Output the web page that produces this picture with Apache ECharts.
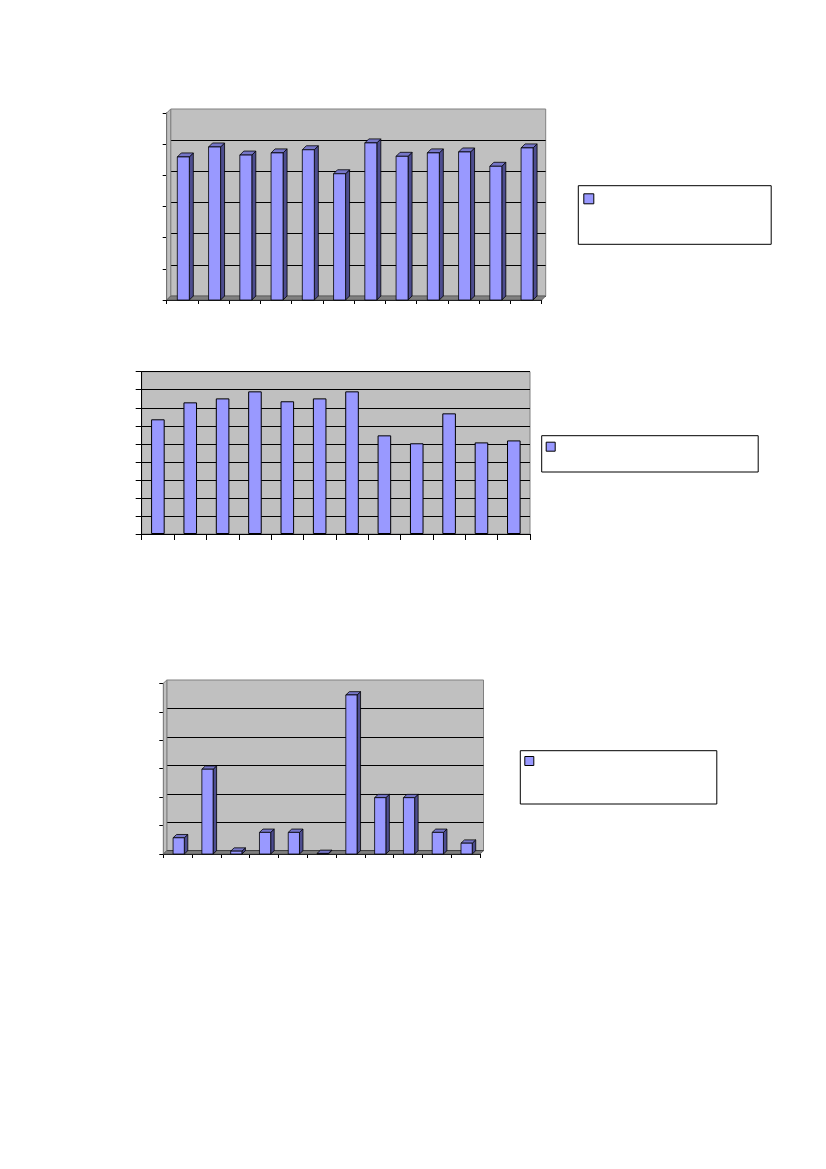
<!DOCTYPE html>
<html>
<head>
<meta charset="utf-8">
<script src="https://cdn.jsdelivr.net/npm/echarts@6/dist/echarts.min.js"></script>
<style>
html,body{margin:0;padding:0;background:#fff;}
#c{width:826px;height:1169px;}
</style>
</head>
<body>
<div id="c"></div>
<script>
// ---- data ----
const categories1 = ['1','2','3','4','5','6','7','8','9','10','11','12'];
const values1 = [4.59, 4.91, 4.65, 4.72, 4.82, 4.05, 5.04, 4.61, 4.72, 4.75, 4.29, 4.88];
const categories2 = ['1','2','3','4','5','6','7','8','9','10','11','12'];
const values2 = [6.36, 7.30, 7.52, 7.91, 7.36, 7.52, 7.91, 5.47, 5.03, 6.69, 5.08, 5.19];
const categories3 = ['1','2','3','4','5','6','7','8','9','10','11'];
const values3 = [0.57, 2.98, 0.1, 0.76, 0.76, 0.02, 5.59, 1.98, 1.98, 0.76, 0.38];
const seriesNames = ['Serie 1', 'Serie 2', 'Serie 3'];

// ---- styles ----
const FRONT = '#9999FF', SIDE = '#4D4D8F', TOPC = '#7676C8';
const WALL = '#C0C0C0', FLOOR = '#808080';

function bar3d(dx, dy, ratio, shift) {
  return function (params, api) {
    const top = api.coord([api.value(0), api.value(1)]);
    const base = api.coord([api.value(0), 0]);
    const bw = api.size([1, 0])[0] * ratio;
    const l = top[0] - bw / 2 + shift, r = l + bw;
    const t = top[1], b = base[1];
    const st = {stroke: '#000', lineWidth: 0.8};
    return {type: 'group', children: [
      {type: 'polygon', shape: {points: [[r, b], [r + dx, b + dy], [r + dx, t + dy], [r, t]]}, style: Object.assign({fill: SIDE}, st)},
      {type: 'polygon', shape: {points: [[l, t], [l + dx, t + dy], [r + dx, t + dy], [r, t]]}, style: Object.assign({fill: TOPC}, st)},
      {type: 'rect', shape: {x: l, y: t, width: bw, height: b - t}, style: Object.assign({fill: FRONT}, st)}
    ]};
  };
}
function floorWalls(dx, dy) {
  return function (params, api) {
    const cs = params.coordSys;
    const x = cs.x, y = cs.y, w = cs.width, h = cs.height;
    return {type: 'group', children: [
      {type: 'polygon', shape: {points: [[x, y], [x + dx, y + dy], [x + dx, y + h + dy], [x, y + h]]}, style: {fill: WALL, stroke: FLOOR, lineWidth: 1}},
      {type: 'polygon', shape: {points: [[x, y + h], [x + w, y + h], [x + w + dx, y + h + dy], [x + dx, y + h + dy]]}, style: {fill: FLOOR, stroke: '#555', lineWidth: 0.8}}
    ]};
  };
}

const g1 = {left: 166.7, top: 113, width: 375, height: 187}, d1 = [4, -4];
const g2 = {left: 141.7, top: 371.7, width: 388.3, height: 162.3};
const g3 = {left: 163.3, top: 683.3, width: 316.7, height: 170.7}, d3 = [3.5, -3.3];

function wallGrid(g, d) {
  return {left: g.left + d[0], top: g.top + d[1], width: g.width, height: g.height,
    show: true, backgroundColor: WALL, borderColor: FLOOR, borderWidth: 1};
}
const axLine = {show: true, lineStyle: {color: '#000', width: 1}};
function hiddenX(gi, cats) {
  return {type: 'category', gridIndex: gi, data: cats, show: false};
}
function wallY(gi, max) {
  return {type: 'value', gridIndex: gi, min: 0, max: max, interval: 1,
    axisLine: {show: false}, axisTick: {show: false}, axisLabel: {show: false},
    splitLine: {show: true, showMaxLine: false, lineStyle: {color: '#000', width: 1}}};
}
function frontX(gi, cats, tl) {
  return {type: 'category', gridIndex: gi, data: cats, axisLine: axLine,
    axisTick: {show: true, length: tl, lineStyle: {color: '#000'}}, axisLabel: {show: false}, splitLine: {show: false}};
}
function frontY(gi, max, tl) {
  return {type: 'value', gridIndex: gi, min: 0, max: max, interval: 1, axisLine: axLine,
    axisTick: {show: true, length: tl, lineStyle: {color: '#000'}}, axisLabel: {show: false}, splitLine: {show: false}};
}
function legend(name, box, sw, padTop, padLeft) {
  const content = sw + 5;
  return {show: true, left: box[0], top: box[1], orient: 'vertical',
    data: [{name: name}], icon: 'rect', itemWidth: sw, itemHeight: sw, itemGap: 0,
    formatter: function () { return ''; },
    textStyle: {fontSize: 6, lineHeight: 6},
    itemStyle: {color: FRONT, borderColor: '#000', borderWidth: 1},
    borderColor: '#000', borderWidth: 1, backgroundColor: '#fff',
    padding: [padTop, box[2] - padLeft - content, box[3] - padTop - sw, padLeft],
    selectedMode: false};
}

const option = {
  animation: false,
  backgroundColor: '#fff',
  grid: [
    wallGrid(g1, d1),
    Object.assign({show: false}, g1),
    Object.assign({show: true, backgroundColor: WALL, borderColor: FLOOR, borderWidth: 1}, g2),
    wallGrid(g3, d3),
    Object.assign({show: false}, g3)
  ],
  xAxis: [
    hiddenX(0, categories1),
    frontX(1, categories1, 4),
    frontX(2, categories2, 6),
    hiddenX(3, categories3),
    frontX(4, categories3, 4)
  ],
  yAxis: [
    wallY(0, 6),
    frontY(1, 6, 4),
    Object.assign(frontY(2, 9, 6), {splitLine: {show: true, lineStyle: {color: '#000', width: 1}}}),
    wallY(3, 6),
    frontY(4, 6, 4)
  ],
  legend: [
    legend(seriesNames[0], [578.3, 185.7, 192.4, 57.6], 10, 7.6, 5),
    legend(seriesNames[1], [541.7, 435.7, 216, 35.3], 9, 6, 4),
    legend(seriesNames[2], [520.3, 750.7, 196, 52.3], 9, 5.3, 4)
  ],
  series: [
    {type: 'custom', name: 'floor1', xAxisIndex: 1, yAxisIndex: 1, data: [[0, 0]], renderItem: floorWalls(d1[0], d1[1]), silent: true, z: 1},
    {type: 'custom', name: seriesNames[0], xAxisIndex: 1, yAxisIndex: 1,
      itemStyle: {color: FRONT},
      data: values1.map((v, i) => [i, v]), renderItem: bar3d(d1[0], d1[1], 0.384, 1), z: 3},
    {type: 'bar', name: seriesNames[1], xAxisIndex: 2, yAxisIndex: 2, data: values2, barWidth: '42%',
      itemStyle: {color: FRONT, borderColor: '#000', borderWidth: 1}},
    {type: 'custom', name: 'floor3', xAxisIndex: 4, yAxisIndex: 4, data: [[0, 0]], renderItem: floorWalls(d3[0], d3[1]), silent: true, z: 1},
    {type: 'custom', name: seriesNames[2], xAxisIndex: 4, yAxisIndex: 4,
      itemStyle: {color: FRONT},
      data: values3.map((v, i) => [i, v]), renderItem: bar3d(d3[0], d3[1], 0.39, 1), z: 3}
  ]
};
const chart = echarts.init(document.getElementById('c'), null, {renderer: 'canvas'});
chart.setOption(option);
</script>
</body>
</html>
